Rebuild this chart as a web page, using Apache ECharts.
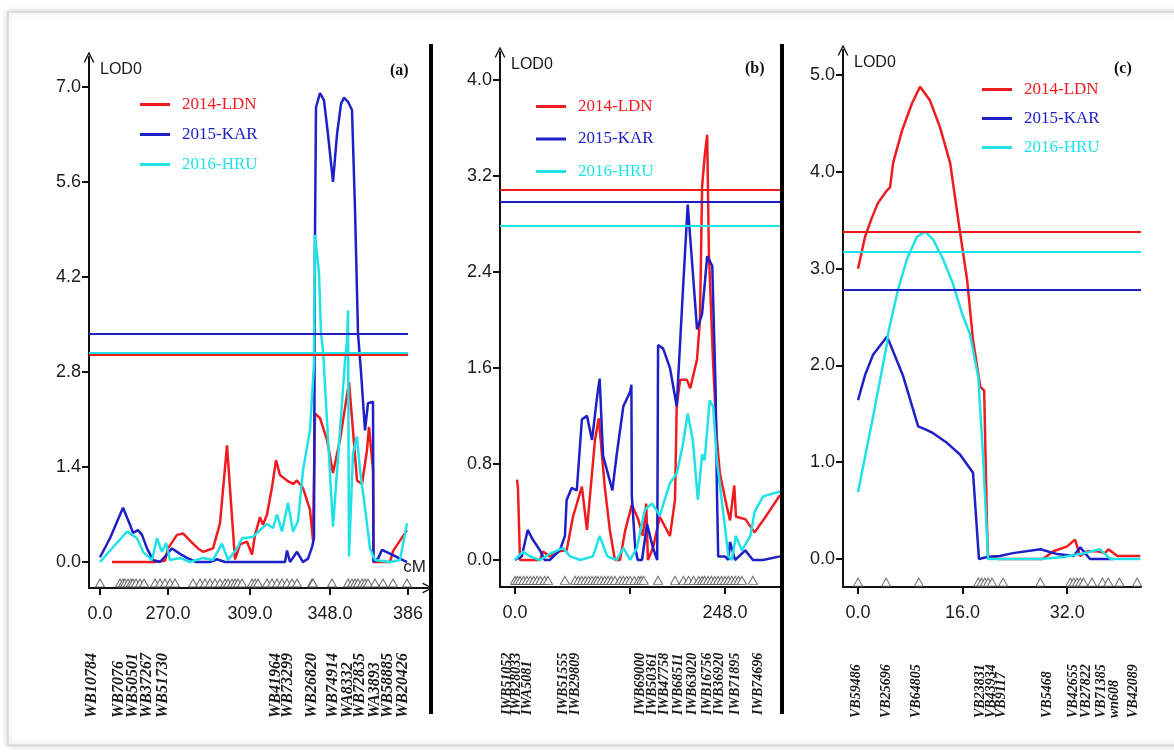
<!DOCTYPE html>
<html>
<head>
<meta charset="utf-8">
<title>LOD0 scans</title>
<script src="https://cdn.jsdelivr.net/npm/echarts@6/dist/echarts.min.js"></script>
<style>
    html, body { margin: 0; padding: 0; background: #fff; }
    #chart { width: 1174px; height: 753px; }
</style>
</head>
<body>
<div id="chart"></div>
<script>
// ---------- data ----------
const seriesNames = ['2014-LDN', '2015-KAR', '2016-HRU']

// panel (a): x in map-position units (axis labels are the printed cM values)
const aXTicks = [0, 68, 150, 230, 308]
const aXLabels = ['0.0', '270.0', '309.0', '348.0', '386']
const aYTicks = [0, 1.4, 2.8, 4.2, 5.6, 7.0]
const aLDN = [[12, 0], [55, 0], [65, 0.02], [68, 0.2], [77, 0.4], [83, 0.42], [93, 0.27], [98, 0.2], [103, 0.15], [107, 0.17], [113, 0.2], [120, 0.57], [127, 1.72], [132, 0.66], [135, 0.04], [140, 0.26], [147, 0.3], [152, 0.11], [155, 0.4], [160, 0.66], [163, 0.55], [167, 0.7], [172, 1.1], [176, 1.5], [180, 1.28], [187, 1.2], [193, 1.15], [197, 1.2], [203, 1.09], [210, 0.77], [213, 0.32], [215, 2.19], [220, 2.12], [227, 1.8], [233, 1.31], [240, 1.8], [249, 2.65], [253, 1.94], [257, 1.2], [262, 1.15], [267, 1.65], [269, 1.99], [273, 1.36], [273.5, 0], [290, 0], [293, 0.16], [307, 0.47]]
const aKAR = [[0, 0.07], [10, 0.35], [23, 0.8], [30, 0.55], [33, 0.43], [38, 0.47], [42, 0.4], [47, 0.2], [53, 0.03], [60, 0], [66, 0.1], [72, 0.2], [80, 0.12], [87, 0.06], [96, 0], [110, 0], [117, 0.04], [125, 0], [185, 0], [187, 0.17], [190, 0], [197, 0.15], [203, 0], [208, 0.05], [212, 0.22], [214, 0.35], [215, 4.85], [216, 6.7], [220, 6.91], [224, 6.8], [228, 6.3], [233, 5.6], [237, 6.3], [241, 6.75], [244, 6.84], [248, 6.78], [252, 6.66], [255, 5.2], [258, 3.37], [261, 2.8], [265, 1.94], [268, 2.34], [273, 2.36], [273.5, 0], [278, 0.05], [282, 0.18], [293, 0.1], [307, 0]]
const aHRU = [[0, 0], [27, 0.45], [37, 0.35], [43, 0.15], [52, 0.03], [57, 0.35], [62, 0.15], [66, 0.28], [70, 0.03], [80, 0.06], [90, 0], [103, 0.06], [113, 0.03], [122, 0.27], [128, 0.03], [137, 0.2], [142, 0.35], [153, 0.37], [160, 0.47], [167, 0.56], [173, 0.5], [177, 0.7], [182, 0.45], [188, 0.87], [193, 0.45], [198, 0.6], [203, 1.35], [210, 1.94], [214, 2.93], [215, 4.82], [219, 4.26], [221, 3.37], [223, 3.12], [233, 0.52], [240, 1.94], [245, 2.96], [247, 3.25], [248, 3.71], [249, 0.08], [253, 1.6], [257, 1.85], [260, 1.35], [265, 0.8], [270, 0.2], [275, 0.03], [290, 0], [300, 0.03], [307, 0.57]]
const aThr = [3.05, 3.37, 3.09]
const aMarks = [0, 20, 23, 25, 28, 31, 33, 36, 40, 44, 55, 60, 65, 70, 75, 93, 100, 105, 110, 115, 120, 125, 128, 132, 135, 138, 142, 152, 155, 158, 167, 172, 177, 182, 187, 192, 197, 212, 213, 232, 248, 252, 255, 258, 262, 265, 268, 275, 283, 293, 307]
const aNamePos = [-8, 19, 33, 47, 63, 176, 188, 212, 233, 248, 260, 275, 288, 303]
const aNames = ['WB10784', 'WB7076', 'WB50501', 'WB37267', 'WB51730', 'WB41964', 'WB73299', 'WB26820', 'WB74914', 'WA8332', 'WB72835', 'WA3893', 'WB58885', 'WB20426']

// panel (b): x in cM
const bXTicks = [0, 136, 248]
const bXLabels = ['0.0', '', '248.0']
const bYTicks = [0, 0.8, 1.6, 2.4, 3.2, 4.0]
const bLDN = [[2.4, 0.67], [3.5, 0.6], [5.9, 0], [17.7, 0], [29.5, 0], [33, 0.07], [41, 0.03], [50, 0.07], [61, 0.08], [68.5, 0.36], [79, 0.61], [85, 0.25], [94.5, 1.0], [99, 1.18], [106, 0.61], [112, 0.25], [118, 0], [124, 0], [130, 0.24], [138, 0.46], [145, 0.35], [151, 0.2], [155, 0.47], [157, 0], [163, 0.1], [171, 0.36], [183, 0.2], [189, 0.5], [191, 1.28], [195, 1.5], [203, 1.5], [207, 1.43], [215, 1.67], [218.5, 2.0], [221, 3.11], [224, 3.36], [227, 3.54], [229, 2.56], [234, 1.64], [238.5, 1.0], [242, 0.72], [250, 0.45], [254, 0.33], [259, 0.62], [261, 0.36], [272, 0.34], [283, 0.23], [295, 0.35], [313, 0.54]]
const bKAR = [[0, 0], [8, 0.03], [15, 0.25], [21, 0.17], [29.5, 0.08], [35, 0], [41, 0], [53, 0.08], [59, 0.2], [61, 0.5], [67, 0.6], [73, 0.58], [79, 1.17], [85, 1.2], [91, 1.0], [97, 1.36], [100, 1.51], [104, 0.87], [115, 0.58], [120, 0.87], [128, 1.28], [136, 1.4], [137.5, 1.46], [138, 0.53], [142, 0.1], [145, 0], [150, 0], [156, 0.3], [163, 0.1], [168, 0], [169, 1.79], [175, 1.76], [183, 1.6], [191, 1.28], [198, 2.2], [204, 2.96], [210, 2.4], [215, 1.92], [221, 2.05], [227, 2.53], [233, 2.45], [237, 1.4], [238.5, 0.58], [240, 0.03], [248, 0.03], [252, 0], [254, 0.15], [260, 0], [272, 0.08], [281, 0], [293, 0], [313, 0.03]]
const bHRU = [[0, 0], [9.4, 0.07], [17.7, 0.03], [29.5, 0], [41, 0.05], [57, 0.1], [65, 0.03], [77, 0], [92, 0.03], [100, 0.2], [109, 0.03], [120, 0], [128, 0.1], [136, 0], [144, 0.1], [153.5, 0.42], [162, 0.47], [171, 0.37], [183, 0.64], [191, 0.72], [198, 0.95], [204, 1.22], [210, 1.0], [216, 0.5], [221, 0.88], [224, 0.83], [230, 1.33], [234, 1.28], [238.5, 0.83], [246, 0.39], [252, 0.03], [256, 0], [261, 0.2], [268, 0.08], [278, 0.2], [283, 0.4], [293, 0.53], [313, 0.57]]
const bThr = [3.08, 2.98, 2.78]
const bMarks = [0, 3, 6, 10, 14, 18, 22, 26, 30, 35, 39, 59, 71, 75, 79, 83, 87, 91, 95, 98, 102, 106, 110, 114, 118, 124, 128, 132, 136, 141, 146, 149, 152, 169, 189, 199, 205, 211, 217, 221, 224, 228, 232, 236, 240, 244, 248, 252, 256, 260, 264, 268, 281]
const bNamePos = [-9, 2, 15, 57, 71, 148, 162, 176, 193, 209, 227, 242, 260, 287]
const bNames = ['IWB51052', 'IWB28033', 'IWA5081', 'IWB51555', 'IWB29809', 'IWB69000', 'IWB50361', 'IWB47758', 'IWB68511', 'IWB63020', 'IWB16756', 'IWB36920', 'IWB71895', 'IWB74696']

// panel (c): x in cM
const cXTicks = [0, 16, 32]
const cXLabels = ['0.0', '16.0', '32.0']
const cYTicks = [0, 1, 2, 3, 4, 5]
const cLDN = [[0, 3.0], [1.07, 3.33], [2.14, 3.53], [3.06, 3.68], [4.44, 3.81], [4.9, 3.84], [5.36, 4.09], [6.74, 4.43], [8.27, 4.71], [9.49, 4.88], [11.0, 4.74], [12.55, 4.46], [14.1, 4.09], [15.6, 3.38], [16.7, 2.88], [17.6, 2.26], [17.9, 2.13], [18.7, 1.78], [19.3, 1.74], [19.75, 0.3], [19.9, 0], [20.7, 0.03], [21.4, 0], [28.3, 0], [29.9, 0.08], [32, 0.13], [33.2, 0.2], [34, 0.03], [35.1, 0.08], [36.6, 0.08], [37.8, 0.06], [38.3, 0.1], [39.7, 0.03], [43.2, 0.03]]
const cKAR = [[0, 1.64], [1.07, 1.9], [2.3, 2.11], [4.44, 2.3], [6.9, 1.89], [9.2, 1.37], [10.3, 1.34], [11.5, 1.3], [13.6, 1.2], [15.6, 1.08], [17.6, 0.89], [18.5, 0], [19.75, 0.02], [21.7, 0.03], [23.7, 0.06], [27.9, 0.1], [30.5, 0.05], [33, 0.03], [34, 0.12], [35.5, 0], [39.0, 0]]
const cHRU = [[0, 0.69], [2.3, 1.47], [4.44, 2.23], [4.6, 2.33], [6.1, 2.78], [7.5, 3.1], [9.0, 3.33], [10.3, 3.38], [11.5, 3.3], [13.0, 3.1], [14.5, 2.85], [15.9, 2.54], [17.1, 2.33], [18.4, 1.88], [19.1, 1.1], [19.9, 0], [21.7, 0], [27.9, 0], [31.4, 0.02], [34, 0.05], [37, 0.1], [38.6, 0], [43.2, 0]]
const cThr = [3.38, 2.78, 3.18]
const cMarks = [0, 4.3, 9.3, 18.4, 18.9, 19.4, 19.9, 20.5, 22.2, 27.9, 32.5, 33.0, 33.5, 34.0, 34.5, 35.8, 37.4, 38.3, 40.0, 42.7]
const cNamePos = [-0.2, 4.3, 9.0, 18.7, 20.4, 22.0, 28.9, 32.9, 35.0, 37.2, 39.3, 42.1]
const cNames = ['VB59486', 'VB25696', 'VB64805', 'VB23831', 'VB43934', 'VB9117', 'VB5468', 'VB42655', 'VB27822', 'VB71385', 'wn608', 'VB42089']

// ---------- layout / style ----------
const lineColors = ['#f01b1e', '#1c20c6', '#1fe2e6']
const sans = 'Liberation Sans'
const serif = 'Liberation Serif'
const ink = '#1a1a1a'
const arrowPath = 'path://M0,12 L6,0 L12,12 L10.4,12 L6,3.2 L1.6,12 Z'

const panels = [
    {
        box: { left: 89, top: 57, width: 339, height: 531 }, xRange: [-11, 328], yRange: [-0.383, 7.44],
        xTicks: aXTicks, xLabels: aXLabels, yTicks: aYTicks, curves: [aLDN, aKAR, aHRU], thr: aThr, thrEnd: 308,
        marks: aMarks, markY: -0.31, namePos: aNamePos, names: aNames, nameSize: 16, nameMargin: 130,
        xArrow: true, xName: 'cM', legend: { left: 140, top: 96, gap: 13 }, tag: { text: '(a)', left: 390, top: 63 }
    },
    {
        box: { left: 500, top: 52, width: 280, height: 535 }, xRange: [-17.7, 313], yRange: [-0.225, 4.23],
        xTicks: bXTicks, xLabels: bXLabels, yTicks: bYTicks, curves: [bLDN, bKAR, bHRU], thr: bThr, thrEnd: 313,
        marks: bMarks, markY: -0.17, namePos: bNamePos, names: bNames, nameSize: 14, nameMargin: 128,
        xArrow: false, xName: '', legend: { left: 536, top: 98, gap: 15.5 }, tag: { text: '(b)', left: 745, top: 61 }
    },
    {
        box: { left: 843, top: 50, width: 298, height: 537 }, xRange: [-2.3, 43.3], yRange: [-0.29, 5.26],
        xTicks: cXTicks, xLabels: cXLabels, yTicks: cYTicks, curves: [cLDN, cKAR, cHRU], thr: cThr, thrEnd: 43.3,
        marks: cMarks, markY: -0.24, namePos: cNamePos, names: cNames, nameSize: 14, nameMargin: 131,
        xArrow: false, xName: '', legend: { left: 982, top: 81, gap: 12 }, tag: { text: '(c)', left: 1114, top: 61 }
    }
]

let option = {
    animation: false,
    backgroundColor: '#fff',
    grid: [], xAxis: [], yAxis: [], series: [], legend: [], title: [],
    graphic: [
        // soft frame round the figure
        { type: 'rect', silent: true, z: -10, shape: { x: 8, y: 12, width: 1190, height: 733 },
          style: { fill: '#fff', stroke: '#d6d6d6', lineWidth: 1.5, shadowBlur: 6, shadowColor: 'rgba(0,0,0,0.2)' } },
        // thick dividers between panels
        { type: 'rect', silent: true, shape: { x: 429, y: 44, width: 4, height: 670 }, style: { fill: '#000' } },
        { type: 'rect', silent: true, shape: { x: 780, y: 44, width: 4, height: 670 }, style: { fill: '#000' } }
    ]
}

panels.forEach((p, i) => {
    const xi = 3 * i // main x axis of this panel; the next two carry marker names
    option.grid.push({ left: p.box.left, top: p.box.top, width: p.box.width, height: p.box.height, containLabel: false, outerBoundsMode: 'none' })

    // main x axis
    option.xAxis.push({
        type: 'value', gridIndex: i, min: p.xRange[0], max: p.xRange[1], position: 'bottom',
        splitLine: { show: false },
        name: p.xName, nameLocation: 'end', nameGap: -2, nameMoveOverlap: false,
        nameTextStyle: { fontFamily: sans, fontSize: 17, color: ink, align: 'right', verticalAlign: 'bottom', padding: [0, 0, 12, 0] },
        axisLine: { onZero: false, symbol: p.xArrow ? ['none', arrowPath] : 'none', symbolSize: [11, 14], lineStyle: { color: '#111', width: 2 } },
        axisTick: { customValues: p.xTicks, length: 7, lineStyle: { color: '#111', width: 2 } },
        axisLabel: {
            customValues: p.xTicks, margin: 17, fontFamily: sans, fontSize: 18, color: ink,
            showMinLabel: true, showMaxLabel: true, hideOverlap: false,
            formatter: v => p.xLabels[p.xTicks.indexOf(v)]
        }
    })
    // marker names under the axis, split over two axes (even / odd) so close neighbours are not dropped
    ;[0, 1].forEach(par => {
        const pos = p.namePos.filter((_, j) => j % 2 === par)
        option.xAxis.push({
            type: 'value', gridIndex: i, min: p.xRange[0], max: p.xRange[1], position: 'bottom', offset: 0,
            splitLine: { show: false }, axisLine: { show: false, onZero: false }, axisTick: { show: false },
            axisLabel: {
                customValues: pos, rotate: 90, align: 'left', verticalAlign: 'middle', margin: p.nameMargin,
                showMinLabel: true, showMaxLabel: true, hideOverlap: false,
                fontFamily: serif, fontStyle: 'italic', fontWeight: 'bold', fontSize: p.nameSize, color: ink,
                formatter: v => p.names[p.namePos.indexOf(v)]
            }
        })
    })

    option.yAxis.push({
        type: 'value', gridIndex: i, min: p.yRange[0], max: p.yRange[1],
        splitLine: { show: false },
        name: 'LOD0', nameLocation: 'end', nameGap: -13, nameMoveOverlap: false,
        nameTextStyle: { fontFamily: sans, fontSize: 16, color: ink, align: 'left', verticalAlign: 'middle', padding: [0, 0, 0, 11] },
        axisLine: { onZero: false, symbol: ['none', arrowPath], symbolSize: [11, 14], lineStyle: { color: '#111', width: 2 } },
        axisTick: { customValues: p.yTicks, length: 7, lineStyle: { color: '#111', width: 2 } },
        axisLabel: {
            customValues: p.yTicks, margin: 8, fontFamily: sans, fontSize: 18, color: ink,
            showMinLabel: true, showMaxLabel: true,
            formatter: v => v.toFixed(1)
        }
    })

    // the three LOD curves, each with its threshold line
    seriesNames.forEach((nm, k) => {
        option.series.push({
            type: 'line', name: nm, xAxisIndex: xi, yAxisIndex: i,
            data: p.curves[k], symbol: 'none', z: 3,
            lineStyle: { color: lineColors[k], width: 2.5 },
            itemStyle: { color: lineColors[k] },
            markLine: {
                symbol: 'none', silent: true, label: { show: false },
                lineStyle: { color: lineColors[k], width: 2, type: 'solid' },
                emphasis: { disabled: true },
                data: [[{ coord: [p.xRange[0], p.thr[k]] }, { coord: [p.thrEnd, p.thr[k]] }]]
            }
        })
    })

    // marker positions (open triangles)
    option.series.push({
        type: 'scatter', xAxisIndex: xi, yAxisIndex: i, silent: true, z: 4,
        data: p.marks.map(x => [x, p.markY]),
        symbol: 'triangle', symbolSize: [9, 8],
        itemStyle: { color: '#fff', borderColor: '#444', borderWidth: 1 }
    })

    option.legend.push({
        left: p.legend.left, top: p.legend.top, orient: 'vertical', padding: 0,
        itemWidth: 30, itemHeight: 14, itemGap: p.legend.gap, selectedMode: false,
        icon: 'path://M0,0H30V3H0Z',
        textStyle: { fontFamily: serif, fontSize: 17, padding: [0, 0, 0, 7] },
        data: seriesNames.map((nm, k) => ({ name: nm, textStyle: { color: lineColors[k] } }))
    })

    option.title.push({
        text: p.tag.text, left: p.tag.left, top: p.tag.top, padding: 0,
        textStyle: { fontFamily: serif, fontWeight: 'bold', fontSize: 16, color: '#111' }
    })
})

const chart = echarts.init(document.getElementById('chart'))
chart.setOption(option)
</script>
</body>
</html>
